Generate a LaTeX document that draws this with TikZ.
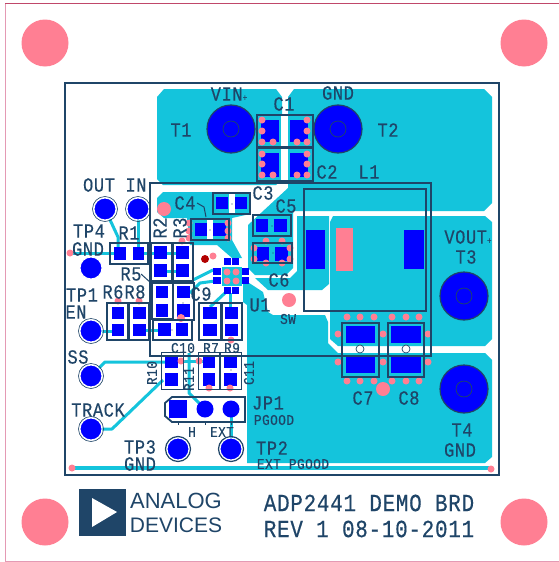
\documentclass[tikz,border=0pt]{standalone}
\usepackage{fontspec}
\newfontfamily\silkfont{Liberation Mono}[FakeStretch=0.85,LetterSpace=3,RawFeature={embolden=0.4}]
\newfontfamily\logofont{Liberation Sans}
\usetikzlibrary{positioning}
\definecolor{copper}{HTML}{14C4DC}
\definecolor{padblue}{HTML}{0000FF}
\definecolor{viapink}{HTML}{FF7F93}
\definecolor{silk}{HTML}{1F4568}
\definecolor{edgepink}{HTML}{E49AB4}
\definecolor{edgered}{HTML}{C0486A}
\newcommand{\lab}[1]{\fontsize{#1}{#1}\selectfont}
\tikzset{
  pour/.style={fill=copper},
  trace/.style={copper,line width=3pt,line join=round},
  padfill/.style={fill=padblue},
  via/.style={fill=viapink},
  outline/.style={draw=silk,line width=1.8pt},
  silktext/.style={text=silk,inner sep=0pt,font=\silkfont\lab{20}},
  smalltext/.style={silktext,font=\silkfont\lab{15}},
  testpoint/.style={fill=padblue,draw=white,line width=1pt},
}
\begin{document}
\begin{tikzpicture}[x=1pt,y=-1pt]
\useasboundingbox (0,0) rectangle (559,562);
\fill[white] (0,0) rectangle (559,562);
\draw[edgepink,line width=0.8pt] (5,3) -- (5,561) -- (559,561);
\draw[edgered,line width=0.8pt] (5,3) -- (559,3);

% mounting holes
\foreach \x/\y in {45/43,524/43,45/522,524/522}
\fill[via] (\x,\y) circle (23.5);

% copper pours
\fill[pour] (157,97) -- (164,89) -- (276,89) -- (282,97) -- (282,179) -- (276,185) -- (163,185) -- (157,179) -- cycle;
\fill[pour] (288,97) -- (294,89) -- (484,89) -- (492,97) -- (492,203) -- (484,211) -- (293,211) -- (293,268) -- (286,275) -- (255,275) -- (248,268) -- (248,225) -- (275,200) -- (288,188) -- cycle;
\fill[pour] (157,198) -- (163,192) -- (250,192) -- (250,214) -- (232,218) -- (232,240) -- (242,258) -- (232,258) -- (217,245) -- (190,245) -- (187,218) -- (164,218) -- (157,212) -- cycle;
\fill[pour] (297,216) -- (329,216) -- (329,284) -- (322,290) -- (268,290) -- (255,278) -- (290,278) -- (297,271) -- cycle;
\fill[pour] (333,216) -- (485,216) -- (492,222) -- (492,339) -- (485,346) -- (338,346) -- (330,339) -- (330,222) -- cycle;
\fill[pour] (247,463) -- (485,463) -- (492,457) -- (492,360) -- (485,353) -- (338,353) -- (328,343) -- (328,322) -- (325,315) -- (273,315) -- (268,312) -- (263,292) -- (243,279) -- (243,302) -- (247,305) -- cycle;
\fill[white] (229,192) rectangle (235,214);
\fill[white] (207,219) rectangle (213,240);
\fill[white] (281,115) rectangle (288,181);

% traces
\draw[trace] (105,209) -- (118,237) -- (118,250);
\draw[trace] (138,209) -- (138,250);
\draw[trace] (70,253) -- (114,253);
\draw[trace] (144,253) -- (154,253);
\draw[trace] (167,253) -- (176,253);
\draw[trace] (167,271) -- (176,271);
\draw[trace] (91,331) -- (112,331);
\draw[trace] (146,330) -- (158,330);
\draw[trace] (193,280) -- (213,270);
\draw[trace] (190,293) -- (200,283) -- (215,281);
\draw[trace] (230,293) -- (230,307);
\draw[trace] (225,293) -- (210,307);
\draw[trace] (91,376) -- (105,362) -- (165,362);
\draw[trace] (91,429) -- (112,429) -- (163,380);
\draw[trace] (181,361) -- (203,361);
\draw[trace] (189,353) -- (189,393) -- (205,409);
\draw[trace] (231,409) -- (231,449);
\draw[trace,line width=4pt] (72,468) -- (491,468);
\fill[pour] (222,267) rectangle (242,286);

% pads, given as left/top/right/bottom
\foreach \a/\b/\c/\d in {
  261/120/279/142,290/120/308/142,261/153/279/177,290/153/308/177,
  114/247/126/260,133/247/144/260,
  154/246/167/259,154/264/167/277,176/246/189/259,176/264/189/277,
  156/286/168/298,156/304/168/317,177/286/190/298,177/304/190/317,
  158/323/171/336,176/323/188/336,
  112/307/124/319,112/324/124/336,133/307/146/319,133/324/146/336,
  203/307/217/319,203/324/217/336,225/307/238/319,225/324/238/336,
  195/223/207/236,213/223/226/236,216/197/228/209,235/197/247/209,
  256/219/268/232,274/219/287/232,257/247/269/261,275/247/288/261,
  224/258/231/265,232/258/239/265,224/287/231/294,232/287/239/294,
  213/268/221/275,213/277/221/284,242/268/249/275,242/277/249/284,
  306/230/325/269,404/230/424/269,
  346/326/375/343,346/356/375/373,391/326/421/343,391/356/421/373,
  165/357/178/368,165/373/178/386,203/357/215/368,203/373/215/386,224/357/237/368,224/373/237/386,
  169/400/187/418}
\fill[padfill] (\a,\b) rectangle (\c,\d);
\fill[via] (336,228) rectangle (353,271);

% test points and jumper holes
\foreach \x/\y in {105/209,138/209,91/268,91/331,91/376,91/429,178/449,231/449}
\draw[testpoint] (\x,\y) circle (11);
\foreach \x/\y in {105/209,138/209,91/331,91/376,91/429}
\draw[silk,line width=0.6pt] (\x,\y) circle (12.5);
\foreach \x/\y in {178/449,231/449}
\draw[silk,line width=1.2pt] (\x,\y) circle (12.5);
\foreach \x in {205,231}
\fill[padfill] (\x,409) circle (8.5);

% large terminals
\foreach \x/\y in {231/129,338/129,464/296,464/389} {
\fill[padfill,draw=silk,line width=1.2pt] (\x,\y) circle (24);
\draw[silk,line width=0.7pt] (\x,\y) circle (8);
}

% vias
\foreach \x/\y in {262/120,262/131,262/142,273/142,307/120,307/131,307/142,297/142,
  262/154,262/164,262/175,273/175,307/154,307/164,307/175,297/175,
  189/223,189/231,189/238,228/223,228/231,228/238,
  254/248,254/259,266/241,282/241,266/263,282/263,290/248,290/259,
  227/272,236/272,227/281,236/281,213/256,182/241,118/301,139/301,231/340,
  181/361,199/361,209/388,230/388,70/253,72/468,491/469,
  347/317,360/317,374/317,392/317,406/317,419/317,338/334,383/334,428/334,338/362,383/362,428/362,
  347/381,360/381,374/381,392/381,406/381,419/381}
\fill[via] (\x,\y) circle (3.5);
\foreach \x/\y/\r in {164/209/7,289/300/7,383/389/7,181/318/4}
\fill[via] (\x,\y) circle (\r);
\fill[red!70!black] (205,259) circle (4);

% footprints on the silk layer
\draw[outline] (65,83) rectangle (499,475);
\draw[outline] (150,183) rectangle (431,356);
\draw[outline] (304,189) rectangle (426,311);
\foreach \a/\b/\c/\d in {
  257/115/313/147,257/148/313/181,110/243/148/264,151/243/172/281,173/243/193/281,
  152/283/173/319,173/283/194/320,153/320/192/340,107/303/128/340,129/303/149/340,
  199/303/221/340,222/303/242/340,191/219/229/240,213/193/250/214,253/215/291/236,253/243/292/263,
  342/323/379/377,388/323/424/377}
\draw[outline] (\a,\b) rectangle (\c,\d);
\foreach \a/\b/\c/\d in {161/352/183/389,198/352/219/389,220/352/241/389}
\draw[silk,line width=0.8pt] (\a,\b) rectangle (\c,\d);
\draw[outline] (172,397) -- (245,397) -- (245,422) -- (172,422) -- (165,416) -- (165,403) -- cycle;
\foreach \x in {178,205,231}
\draw[silk,line width=1pt] (\x,422) -- (\x,425);
\draw[silk,line width=1pt] (197,203) -- (204,207) -- (206,217);
\draw[silk,line width=1pt] (141,274) -- (151,283);
\foreach \x/\y in {232/204,210/230,272/226,273/253,183/303,172/330,231/370}
\fill[silk] (\x,\y) circle (0.7);
\foreach \x in {360,406}
\draw[silk,fill=white,line width=0.7pt] (\x,349) circle (4);

% logo
\fill[silk] (79,489) rectangle (126,536);
\fill[white] (92,498) -- (117,512) -- (92,527) -- cycle;

% labels
\node[silktext] (vin) at (229,94) {VIN\lab{9}+};
\node[silktext] (gndtop) at (338,93) {GND};
\node[silktext] (tone) at (181,130) {T1};
\node[silktext] (ttwo) at (388,130) {T2};
\node[silktext] (cone) at (284,104) {C1};
\node[silktext] (ctwo) at (327,172) {C2};
\node[silktext] (lone) at (369,172) {L1};
\node[silktext] (cthree) at (263,193) {C3};
\node[silktext] (cfour) at (185,203) {C4};
\node[silktext] (cfive) at (286,206) {C5};
\node[silktext] (csix) at (279,280) {C6};
\node[silktext] (uone) at (260,305) {U1};
\node[smalltext] (sw) at (288,319) {SW};
\node[silktext] (out) at (99,185) {OUT};
\node[silktext] (in) at (136,185) {IN};
\node[silktext] (tpfour) at (89,231) {TP4};
\node[silktext] (rone) at (129,233) {R1};
\node[silktext] (gndl) at (88,249) {GND};
\node[silktext,rotate=90] (rtwo) at (160,228) {R2};
\node[silktext,rotate=90] (rthree) at (180,228) {R3};
\node[silktext] (rfive) at (131,274) {R5};
\node[silktext] (tpone) at (82,295) {TP1};
\node[silktext] (rsix) at (113,292) {R6};
\node[silktext] (reight) at (135,292) {R8};
\node[silktext] (en) at (76,312) {EN};
\node[silktext] (cnine) at (201,294) {C9};
\node[smalltext] (cten) at (183,348) {C10};
\node[smalltext] (rseven) at (211,348) {R7};
\node[smalltext] (rnine) at (232,348) {R9};
\node[silktext] (ss) at (78,357) {SS};
\node[silktext] (track) at (98,410) {TRACK};
\node[smalltext,rotate=90] (rten) at (152,373) {R10};
\node[smalltext,rotate=90] (releven) at (189,379) {R11};
\node[smalltext,rotate=90] (celeven) at (249,373) {C11};
\node[silktext] (jpone) at (268,403) {JP1};
\node[smalltext] (pgood) at (274,420) {PGOOD};
\node[smalltext] (h) at (192,432) {H};
\node[smalltext] (ext) at (222,432) {EXT};
\node[silktext] (tpthree) at (140,447) {TP3};
\node[silktext] (gndb) at (140,464) {GND};
\node[silktext] (tptwo) at (272,448) {TP2};
\node[smalltext] (extpgood) at (293,464) {EXT PGOOD};
\node[silktext] (vout) at (468,237) {VOUT\lab{9}+};
\node[silktext] (tthree) at (466,257) {T3};
\node[silktext] (cseven) at (363,398) {C7};
\node[silktext] (ceight) at (409,398) {C8};
\node[silktext] (tfour) at (462,430) {T4};
\node[silktext] (gndr) at (460,450) {GND};
\node[text=silk,font=\logofont\lab{22}] (analog) at (176,501) {ANALOG};
\node[text=silk,font=\logofont\lab{21}] (devices) at (176,525) {DEVICES};
\node[silktext,font=\silkfont\lab{24.6}] (board) at (369,503) {ADP2441 DEMO BRD};
\node[silktext,font=\silkfont\lab{24.6}] (rev) at (369,529) {REV 1 08-10-2011};
\end{tikzpicture}
\end{document}
